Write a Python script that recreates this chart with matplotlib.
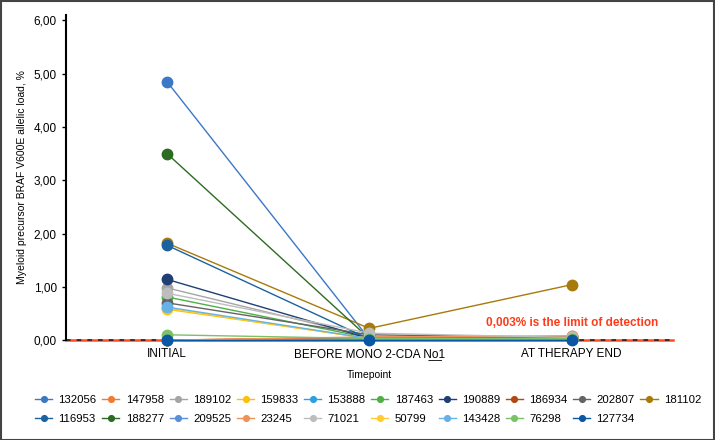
import matplotlib
matplotlib.use("Agg")
import matplotlib.pyplot as plt
from matplotlib.ticker import FuncFormatter

# timepoints and per-patient allelic load (%)
timepoints = ["INITIAL", "BEFORE MONO 2-CDA N\u0332o\u03321", "AT THERAPY END"]

patients = ["132056", "147958", "189102", "159833", "153888", "187463", "190889",
            "186934", "202807", "181102", "116953", "188277", "209525", "23245",
            "71021", "50799", "143428", "76298", "127734"]

colors = ["#3b78c6", "#ed7d31", "#a5a5a5", "#ffc000", "#2e9fe0", "#4cb043", "#1f3f74",
          "#b5470f", "#646464", "#a87a0a", "#1c62a0", "#2e6b22", "#5d8fd6", "#f1915a",
          "#bdbdbd", "#ffcd33", "#66b2e6", "#7cc168", "#0b57a4"]

initial = [4.85, 0.0, 0.98, 0.58, 0.0, 0.81, 1.14, 0.0, 0.70, 1.82, 1.78, 3.50,
           0.0, 0.0, 0.88, 0.60, 0.62, 0.10, 0.0]
before = [0.02, 0.04, 0.06, 0.03, 0.02, 0.04, 0.03, 0.05, 0.10, 0.22, 0.02, 0.03,
          0.02, 0.06, 0.13, 0.03, 0.03, 0.03, 0.0]
therapy_end = [0.03, 0.07, 0.04, 0.03, 0.02, 0.04, 0.03, 0.06, 0.05, 1.04, 0.02, 0.03,
               0.02, 0.08, 0.05, 0.03, 0.03, 0.03, 0.0]

limit_of_detection = 0.003

plt.rcParams["font.family"] = ["Liberation Sans", "DejaVu Sans"]

fig = plt.figure(figsize=(7.15, 4.4), dpi=100)
ax = fig.add_axes([0.092, 0.227, 0.849, 0.739])

x = list(range(len(timepoints)))
handles = []
for i, p in enumerate(patients):
    h, = ax.plot(x, [initial[i], before[i], therapy_end[i]], color=colors[i], lw=1.0,
                 marker="o", markersize=7.5, label=p, clip_on=False, zorder=3)
    handles.append(h)

# limit of detection line
ax.axhline(limit_of_detection, color="#ff4a1c", lw=1.8, zorder=2, clip_on=False)
ax.axhline(limit_of_detection, color="#1a1a1a", lw=1.1, dashes=(3, 4), zorder=2.1,
           clip_on=False)
ax.text(2, 0.32, "0,003% is the limit of detection", color="#ff3b1a",
        fontsize=8.5, fontweight="bold", ha="center", va="center")

ax.set_xlim(-0.5, 2.5)
ax.set_ylim(0, 6.1)
ax.set_yticks([0, 1, 2, 3, 4, 5, 6])
ax.yaxis.set_major_formatter(FuncFormatter(lambda v, _: f"{v:.2f}".replace(".", ",")))
ax.set_xticks(x)
ax.set_xticklabels(timepoints)
ax.tick_params(axis="x", length=0, labelsize=8.5, pad=6)
ax.tick_params(axis="y", length=3, width=1, labelsize=8.5, direction="out")

for s in ["top", "right", "bottom"]:
    ax.spines[s].set_visible(False)
ax.spines["left"].set_linewidth(1.5)

ax.set_ylabel("Myeloid precursor BRAF V600E allelic load, %", fontsize=7.5, labelpad=5)
ax.set_xlabel("Timepoint", fontsize=7.5, labelpad=7)

# legend filled row by row (matplotlib fills columns first)
ncol = 10
row1, row2 = handles[:ncol], handles[ncol:]
ordered = []
for j in range(ncol):
    ordered.append(row1[j])
    if j < len(row2):
        ordered.append(row2[j])
fig.legend(handles=ordered, labels=[h.get_label() for h in ordered],
           loc="center", bbox_to_anchor=(0.515, 0.069), ncol=ncol, frameon=False,
           fontsize=8.2, handlelength=1.5, handletextpad=0.55, columnspacing=0.5,
           markerscale=0.55, borderaxespad=0, labelspacing=0.85)

# figure frame
fig.patches.append(plt.Rectangle((0.001, 0.001), 0.998, 0.997, transform=fig.transFigure,
                                 fill=False, edgecolor="#444444", lw=1.5))

fig.savefig("out.png", dpi=100)
